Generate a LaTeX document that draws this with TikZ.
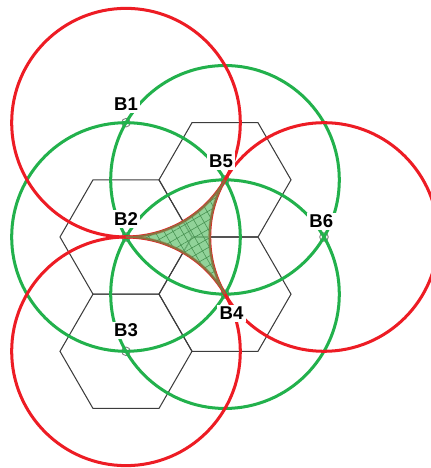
\documentclass[tikz,border=0pt]{standalone}
\usepackage{fontspec}
\setmainfont{Liberation Sans}
\usetikzlibrary{positioning,patterns.meta}
\definecolor{ringred}{RGB}{237,28,36}
\definecolor{ringgreen}{RGB}{34,177,76}
\definecolor{zonegreen}{RGB}{118,200,128}
\definecolor{zonebrown}{RGB}{140,112,62}
\definecolor{zonegrid}{RGB}{70,145,80}
\definecolor{hexgray}{RGB}{60,60,60}
\tikzset{
  hexline/.style={draw=hexgray, line width=0.45pt},
  redring/.style={draw=ringred, line width=1.3pt},
  greenring/.style={draw=ringgreen, line width=1.3pt},
  site/.style={draw=gray, circle, inner sep=0pt, minimum size=1.3mm, line width=0.4pt},
  sitelabel/.style={fill=white, inner sep=1pt, font=\bfseries\fontsize{8}{9}\selectfont},
  zone/.style={fill=zonegreen, fill opacity=0.8},
  zonehatch/.style={pattern={Hatch[angle=30, distance=3.4pt, line width=0.25pt]}, pattern color=zonegrid},
  zoneline/.style={draw=zonebrown, line width=0.8pt}
}

\begin{document}
\begin{tikzpicture}
  \useasboundingbox (-2.909,-3.5) rectangle (3.621,3.591);
  \clip (-2.909,-3.5) rectangle (3.621,3.591);
  \def\rr{1.732}
  % base stations on the lattice
  \node[site] (b1) at (-1,1.732) {};
  \node[site] (b2) at (-1,0) {};
  \node[site] (b3) at (-1,-1.732) {};
  \node[site] (b4) at (0.5,-0.866) {};
  \node[site] (b5) at (0.5,0.866) {};
  \node[site] (b6) at (2,0) {};
  % hexagonal cells
  \foreach \c in {b2,b3,b4,b5}
    \draw[hexline] (\c.center) +(0:1) -- +(60:1) -- +(120:1) -- +(180:1) -- +(240:1) -- +(300:1) -- cycle;
  % coverage circles
  \foreach \c in {b2,b4,b5}
    \draw[greenring] (\c.center) circle[radius=\rr];
  \foreach \c in {b1,b3,b6}
    \draw[redring] (\c.center) circle[radius=\rr];
  % region between the three red circles
  \path[zone] (b2.center) arc[start angle=-90, end angle=-30, radius=\rr]
    arc[start angle=150, end angle=210, radius=\rr]
    arc[start angle=30, end angle=90, radius=\rr] -- cycle;
  \path[zonehatch] (b2.center) arc[start angle=-90, end angle=-30, radius=\rr]
    arc[start angle=150, end angle=210, radius=\rr]
    arc[start angle=30, end angle=90, radius=\rr] -- cycle;
  \draw[zoneline] (b2.center) arc[start angle=-90, end angle=-30, radius=\rr]
    arc[start angle=150, end angle=210, radius=\rr]
    arc[start angle=30, end angle=90, radius=\rr] -- cycle;
  % labels
  \node[sitelabel, above=0.7mm of b1] (l1) {B1};
  \node[sitelabel, above=0.6mm of b2] (l2) {B2};
  \node[sitelabel, above=1mm of b3] (l3) {B3};
  \node[sitelabel, below=0.8mm of b4, xshift=1mm] (l4) {B4};
  \node[sitelabel, above=0.7mm of b5, xshift=-0.6mm] (l5) {B5};
  \node[sitelabel, above=0.2mm of b6, xshift=-0.4mm] (l6) {B6};
\end{tikzpicture}
\end{document}
